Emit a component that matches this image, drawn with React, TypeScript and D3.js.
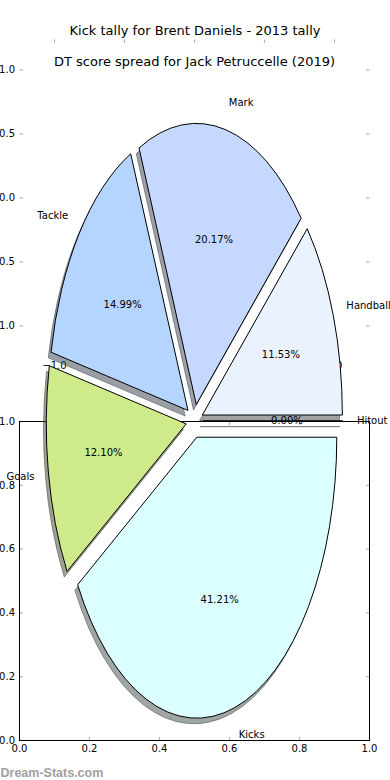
import React from 'react';
import * as d3 from 'd3';

// ---- data ----
const categories = ['Handball', 'Mark', 'Tackle', 'Goals', 'Kicks', 'Hitout'];
const values = [40, 70, 52, 42, 143, 0];
const sliceColors = ['#eaf1ff', '#c5d8ff', '#b4d5ff', '#cfea8b', '#dbffff', '#e6e6ff'];
const explode = [0.06, 0.06, 0.06, 0.06, 0.06, 0.06];

const titleTop = 'Kick tally for Brent Daniels - 2013 tally';
const titleSecond = 'DT score spread for Jack Petruccelle (2019)';

const pieTicks = [-1, -0.5, 0, 0.5, 1];
const pieTickLabels = ['−1.0', '−0.5', '0.0', '0.5', '1.0'];
const midTicks = [1, 0.5, 0, -0.5, -1];
const midTickLabels = ['1.0', '0.5', '0.0', '−0.5', '−1.0'];
const boxTicks = [0, 0.2, 0.4, 0.6, 0.8, 1.0];
const boxTickLabels = ['0.0', '0.2', '0.4', '0.6', '0.8', '1.0'];
const watermark = 'Dream-Stats.com';

const FONT = '"DejaVu Sans", sans-serif';
const TICK = '#b4b4b4';

export default function App() {
  const W = 390, H = 780;
  // pie coordinate system
  const px = d3.scaleLinear().domain([-1, 1]).range([54.5, 334.5]);
  const py = d3.scaleLinear().domain([-1, 1]).range([702, 140]);
  // middle (frameless) axes
  const my = d3.scaleLinear().domain([-1, 1]).range([326, 70]);
  // framed box axes
  const bx = d3.scaleLinear().domain([0, 1]).range([19.5, 369.5]);
  const by = d3.scaleLinear().domain([0, 1]).range([740.5, 421.5]);

  const rx = px(1) - px(0);
  const ry = py(0) - py(1);
  const c0x = px(0), c0y = py(0);

  const pie = d3.pie<number>().sort(null).value((d) => d)
    .startAngle(Math.PI / 2).endAngle(Math.PI / 2 - 2 * Math.PI);
  const arcs = pie(values);
  const arc = d3.arc<any>().innerRadius(0).outerRadius(1);
  const total = d3.sum(values);

  const slices = arcs.map((a, i) => {
    const mid = (a.startAngle + a.endAngle) / 2;
    const ux = Math.sin(mid), uy = -Math.cos(mid);
    const ox = c0x + explode[i] * ux * rx;
    const oy = c0y + explode[i] * uy * ry;
    const col = d3.rgb(sliceColors[i]);
    const shadow = d3.rgb(col.r * 0.3, col.g * 0.3, col.b * 0.3).toString();
    return {
      i, a, ux, uy, ox, oy, shadow,
      d: arc(a) as string,
      lx: ox + 1.1 * ux * rx, ly: oy + 1.1 * uy * ry,
      tx: ox + 0.6 * ux * rx, ty: oy + 0.6 * uy * ry,
      pct: ((values[i] / total) * 100).toFixed(2) + '%',
    };
  });

  return (
    <svg width={W} height={H} style={{ position: 'absolute', left: 0, top: 0, background: '#fff' }}
      fontFamily={FONT}>
      <rect x={0} y={0} width={W} height={H} fill="#fff" />
      {/* titles */}
      <text x={195} y={34.5} fontSize={13} textAnchor="middle">{titleTop}</text>
      <text x={194.5} y={65.5} fontSize={13} textAnchor="middle">{titleSecond}</text>

      {/* pie axes ticks */}
      {pieTicks.map((t, k) => (
        <g key={'pt' + k}>
          <line x1={px(t)} x2={px(t)} y1={39.5} y2={43} stroke={TICK} strokeWidth={1.2} />
          <text x={px(t)} y={368.5} fontSize={10} textAnchor="middle">{pieTickLabels[k]}</text>
        </g>
      ))}

      {/* middle axes ticks */}
      {midTicks.map((t, k) => (
        <g key={'mt' + k}>
          <line x1={19.5} x2={23} y1={my(t)} y2={my(t)} stroke={TICK} strokeWidth={1.2} />
          <line x1={369.5} x2={366} y1={my(t)} y2={my(t)} stroke={TICK} strokeWidth={1.2} />
          <text x={15} y={my(t)} dy="0.33em" fontSize={10} textAnchor="end">{midTickLabels[k]}</text>
        </g>
      ))}

      {/* framed axes */}
      {boxTicks.map((t, k) => (
        <g key={'bt' + k}>
          <line x1={bx(t)} x2={bx(t)} y1={by(1)} y2={by(1) + 3.5} stroke={TICK} strokeWidth={1.2} />
          <line x1={bx(t)} x2={bx(t)} y1={by(0)} y2={by(0) - 3.5} stroke={TICK} strokeWidth={1.2} />
          <line x1={bx(0)} x2={bx(0) + 3.5} y1={by(t)} y2={by(t)} stroke={TICK} strokeWidth={1.2} />
          <line x1={bx(1)} x2={bx(1) - 3.5} y1={by(t)} y2={by(t)} stroke={TICK} strokeWidth={1.2} />
          <text x={bx(t)} y={by(0) + 11.5} fontSize={10} textAnchor="middle">{boxTickLabels[k]}</text>
          <text x={15} y={by(t)} dy="0.33em" fontSize={10} textAnchor="end">{boxTickLabels[k]}</text>
        </g>
      ))}
      <rect x={bx(0)} y={by(1)} width={bx(1) - bx(0)} height={by(0) - by(1)} fill="none" stroke="#000" strokeWidth={1} />

      {/* shadows */}
      {slices.map((s) => (
        <path key={'sh' + s.i} d={s.d}
          transform={`translate(${s.ox - 0.02 * rx},${s.oy + 0.02 * ry}) scale(${rx},${ry})`}
          fill={s.shadow} fillOpacity={0.5} stroke={s.shadow} strokeOpacity={0.5} strokeWidth={1}
          vectorEffect="non-scaling-stroke" />
      ))}
      {/* wedges */}
      {slices.map((s) => (
        <path key={'w' + s.i} d={s.d}
          transform={`translate(${s.ox},${s.oy}) scale(${rx},${ry})`}
          fill={sliceColors[s.i]} stroke="#000" strokeWidth={1} strokeLinejoin="miter"
          vectorEffect="non-scaling-stroke" />
      ))}
      {/* labels */}
      {slices.map((s) => (
        <g key={'l' + s.i} fontSize={10}>
          <text x={s.lx} y={s.ly} dy="0.32em" textAnchor={s.ux > 0 ? 'start' : 'end'}>{categories[s.i]}</text>
          <text x={s.tx} y={s.ty} dy="0.32em" textAnchor="middle">{s.pct}</text>
        </g>
      ))}

      <text x={0.5} y={776.5} fontSize={12.5} fontWeight="bold" fill="#a0a0a0"
        fontFamily='"Liberation Sans", Arial, sans-serif'>{watermark}</text>
    </svg>
  );
}
